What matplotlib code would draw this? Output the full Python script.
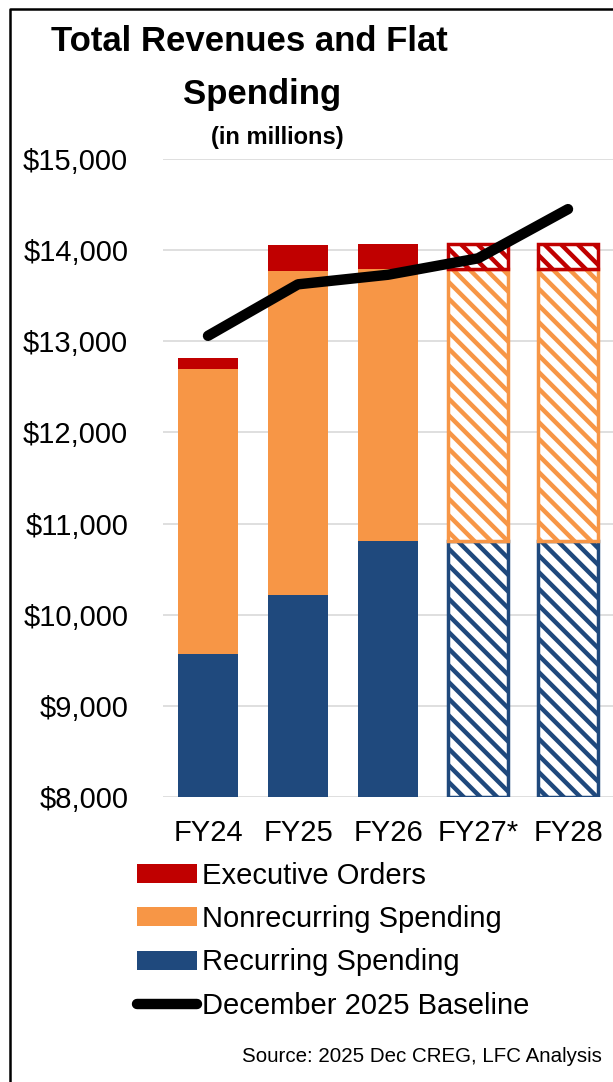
import matplotlib
matplotlib.use('Agg')
import matplotlib.pyplot as plt
from matplotlib.patches import Patch
from matplotlib.lines import Line2D
from matplotlib.ticker import FuncFormatter

plt.rcParams['font.family'] = ['Liberation Sans', 'DejaVu Sans']
plt.rcParams['hatch.linewidth'] = 3.2

# spending by fiscal year, $ millions
years = ['FY24', 'FY25', 'FY26', 'FY27*', 'FY28']
recurring = [9565, 10220, 10810, 10810, 10810]
nonrecurring = [3130, 3550, 2980, 2985, 2985]
exec_orders = [125, 290, 280, 270, 270]
baseline = [13060, 13625, 13730, 13910, 14450]
projected = [False, False, False, True, True]

c_exec = '#C00000'
c_nonrec = '#F79646'
c_rec = '#1F497D'

W, H = 613, 1082
y_min, y_max = 8000, 15000

fig = plt.figure(figsize=(W / 100, H / 100), dpi=100)
ax = fig.add_axes([163 / W, 1 - 797 / H, 1 - 163 / W, (797 - 159) / H])

x = list(range(len(years)))
width = 0.66

base = [y_min] * len(years)
series = [
    (recurring, c_rec),
    (nonrecurring, c_nonrec),
    (exec_orders, c_exec),
]
for i, (vals, col) in enumerate(series):
    if i == 0:
        heights = [v - y_min for v in vals]
    else:
        heights = vals
    bars = ax.bar(x, heights, width, bottom=base, color=col, linewidth=0, zorder=2)
    for j, b in enumerate(bars):
        if projected[j]:
            b.set_facecolor('white')
            b.set_edgecolor(col)
            b.set_hatch('\\\\')
            b.set_linewidth(2.5)
    base = [bo + h for bo, h in zip(base, heights)]

ax.plot(x, baseline, color='black', lw=7.5, solid_capstyle='round',
        solid_joinstyle='round', zorder=5)

ax.set_xlim(-0.5, 4.5)
ax.set_ylim(y_min, y_max)
ax.set_yticks(range(y_min, y_max + 1, 1000))
ax.yaxis.set_major_formatter(FuncFormatter(lambda v, p: '${:,.0f}'.format(v)))
ax.set_xticks(x)
ax.set_xticklabels(years)
ax.grid(axis='y', color='#d9d9d9', lw=1.2)
ax.set_axisbelow(True)
for s in ax.spines.values():
    s.set_visible(False)
ax.tick_params(axis='y', length=0, labelsize=21, pad=25)
ax.tick_params(axis='x', length=0, labelsize=21, pad=16)

fig.text(249 / W, 1 - 51 / H, 'Total Revenues and Flat', ha='center', va='baseline',
         fontsize=25, fontweight='bold')
fig.text(262 / W, 1 - 104 / H, 'Spending', ha='center', va='baseline',
         fontsize=25, fontweight='bold')
fig.text(277 / W, 1 - 144 / H, '(in millions)', ha='center', va='baseline',
         fontsize=17, fontweight='bold')

handles = [
    Patch(facecolor=c_exec, linewidth=0),
    Patch(facecolor=c_nonrec, linewidth=0),
    Patch(facecolor=c_rec, linewidth=0),
    Line2D([0], [0], color='black', lw=7.5, solid_capstyle='round'),
]
labels = ['Executive Orders', 'Nonrecurring Spending', 'Recurring Spending',
          'December 2025 Baseline']
fig.legend(handles, labels, loc='upper left', bbox_to_anchor=(137 / W, 1 - 862 / H),
           frameon=False, fontsize=21, handlelength=2.06, handleheight=0.62,
           handletextpad=0.17, labelspacing=0.52, borderpad=0, borderaxespad=0)

fig.text(602 / W, 1 - 1062 / H, 'Source: 2025 Dec CREG, LFC Analysis', ha='right',
         va='baseline', fontsize=14.8)

# frame around the chart
fig.add_artist(Line2D([10 / W, 10 / W, 1], [0, 1 - 9 / H, 1 - 9 / H],
                      transform=fig.transFigure, color='black', lw=1.8))

fig.savefig('out.png', dpi=100)
